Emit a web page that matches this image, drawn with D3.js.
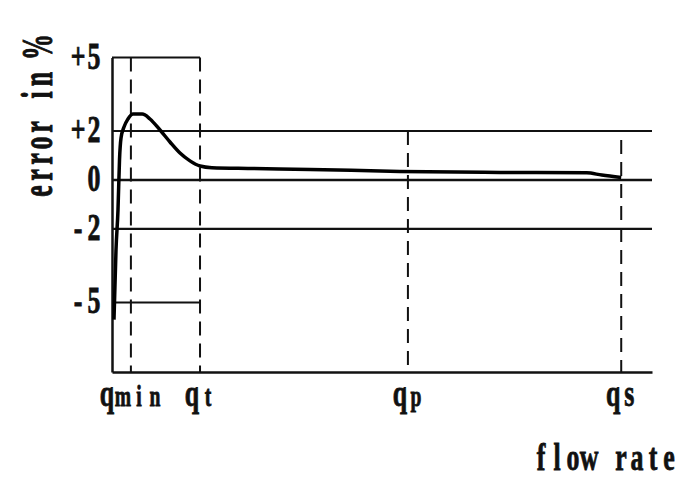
<!DOCTYPE html>
<html>
<head>
<meta charset="utf-8">
<script src="https://cdn.jsdelivr.net/npm/d3@7"></script>
<style>
  html, body { margin: 0; padding: 0; background: #fff; }
  svg { display: block; }
  text { font-family: "Liberation Serif", "DejaVu Serif", serif; font-weight: bold; fill: #111; stroke: #111; stroke-width: 0.8; }
</style>
</head>
<body>
<svg id="chart" width="700" height="500"></svg>
<script>
// ---- data ----
const flowMarks = [3.5, 16.3, 54.8, 94.3];          // qmin, qt, qp, qs positions on flow axis
const flowMain = ["q", "q", "q", "q"];
const flowSub = ["min", "t", "p", "s"];
const flowDashTop = [5, 5, 2, 1.63];                 // where each dashed guide starts (error %)

const errorTicks = [5, 2, 0, -2, -5];
const errorTickLabels = ["+5", "+2", "0", "-2", "-5"];

const fullLines = [2, 0, -2];                         // limit lines spanning the whole range
const boxLines = [5, -5];                             // limit lines from 0 to qt

const curveFlow = [0.37, 0.74, 1.11, 1.39, 1.67, 2.22, 2.96, 3.89, 5.6, 7.04, 8.89, 10.74, 12.59, 14.44, 16.3, 18.5, 25.6, 36.7, 53.3, 71.9, 87.9, 90.7, 94.3];
const curveError = [-5.7, -2.86, -1.22, 0.82, 1.71, 2.16, 2.49, 2.69, 2.69, 2.49, 2.04, 1.55, 1.1, 0.78, 0.57, 0.5, 0.47, 0.43, 0.35, 0.31, 0.29, 0.2, 0.1];

// ---- layout ----
const svg = d3.select("#chart");
const x = d3.scaleLinear().domain([0, 100]).range([112, 652]);
const y = d3.scaleLinear().domain([-7.84, 5]).range([372, 57.5]);

// axes (lines only)
svg.append("g").attr("transform", `translate(${x(0)},0)`)
  .call(d3.axisLeft(y).tickValues([]).tickSizeOuter(0))
  .call(g => g.select(".domain").attr("stroke", "#111").attr("stroke-width", 2.5));
svg.append("g").attr("transform", `translate(0,${y(-7.84)})`)
  .call(d3.axisBottom(x).tickValues([]).tickSizeOuter(0))
  .call(g => g.select(".domain").attr("stroke", "#111").attr("stroke-width", 2.5));

// limit lines
svg.append("g").selectAll("line").data(fullLines).join("line")
  .attr("x1", x(0)).attr("x2", x(100))
  .attr("y1", d => y(d)).attr("y2", d => y(d))
  .attr("stroke", "#111").attr("stroke-width", d => d === 0 ? 2.6 : 2.2);
svg.append("g").selectAll("line").data(boxLines).join("line")
  .attr("x1", x(0)).attr("x2", x(flowMarks[1]))
  .attr("y1", d => y(d)).attr("y2", d => y(d))
  .attr("stroke", "#111").attr("stroke-width", 2);

// dashed guides
svg.append("g").selectAll("line").data(flowMarks).join("line")
  .attr("x1", d => x(d)).attr("x2", d => x(d))
  .attr("y1", (d, i) => y(flowDashTop[i])).attr("y2", y(-7.84))
  .attr("stroke", "#111").attr("stroke-width", 2)
  .attr("stroke-dasharray", "14,8");

// error curve
const line = d3.line().x(d => x(d[0])).y(d => y(d[1])).curve(d3.curveMonotoneX);
svg.append("path")
  .datum(curveFlow.map((f, i) => [f, curveError[i]]))
  .attr("d", line)
  .attr("fill", "none").attr("stroke", "#000").attr("stroke-width", 3.5)
  .attr("stroke-linejoin", "round");

// monospaced-looking serif text: one glyph per fixed-width cell
const SX = 0.7, SY = 1.02, FS = 37, ADV = 16 / SX;
function mono(transform, parts, anchor) {
  const chars = [];
  parts.forEach(p => p.s.split("").forEach(c => chars.push({c, size: p.size})));
  const n = chars.length;
  const off = anchor === "end" ? n - 0.5 : anchor === "start" ? -0.5 : (n - 1) / 2;
  const t = svg.append("g").attr("transform", transform)
    .append("text").attr("text-anchor", "middle");
  t.selectAll("tspan").data(chars).join("tspan")
    .attr("x", (d, i) => (i - off) * ADV)
    .attr("font-size", d => d.size)
    .text(d => d.c);
}

// y tick labels
errorTicks.forEach((v, i) =>
  mono(`translate(102,${y(v) + 11}) scale(${SX},${SY})`, [{s: errorTickLabels[i], size: FS}], "end"));

// x tick labels
flowMarks.forEach((v, i) =>
  mono(`translate(${x(v)},406) scale(${SX},${SY})`,
    [{s: flowMain[i], size: FS}, {s: flowSub[i], size: flowSub[i] === "s" ? FS : 28}], "middle"));

// axis titles
mono(`translate(677,470) scale(${SX},${SY})`, [{s: "flow rate", size: FS}], "end");
mono(`translate(52,119) rotate(-90) scale(${SX},1.2)`, [{s: "error in %", size: FS}], "middle");
</script>
</body>
</html>
